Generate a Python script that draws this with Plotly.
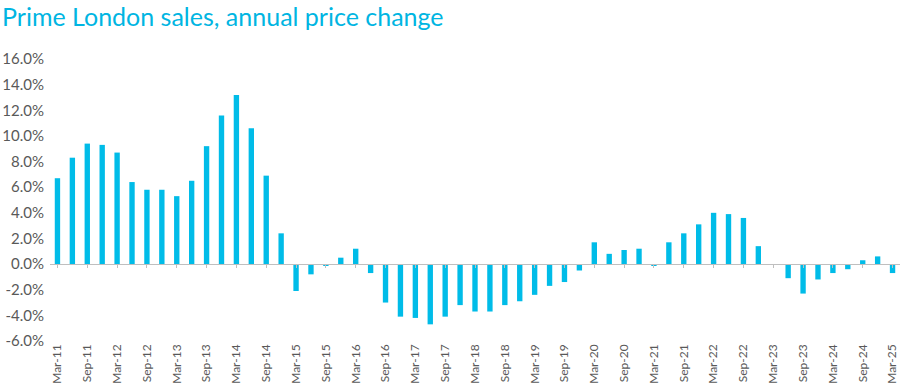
import plotly.graph_objects as go

quarters = []
for yr in range(11, 26):
    for m in ["Mar", "Jun", "Sep", "Dec"]:
        quarters.append(f"{m}-{yr}")
quarters = quarters[:57]

values = [
    6.7, 8.3, 9.4, 9.3,
    8.7, 6.4, 5.8, 5.8,
    5.3, 6.5, 9.2, 11.6,
    13.2, 10.6, 6.9, 2.4,
    -2.1, -0.8, -0.1, 0.5,
    1.2, -0.7, -3.0, -4.1,
    -4.2, -4.7, -4.1, -3.2,
    -3.7, -3.7, -3.2, -2.9,
    -2.4, -1.7, -1.4, -0.5,
    1.7, 0.8, 1.1, 1.2,
    -0.1, 1.7, 2.4, 3.1,
    4.0, 3.9, 3.6, 1.4,
    -0.05, -1.1, -2.3, -1.2,
    -0.7, -0.4, 0.3, 0.6,
    -0.7,
]

tick_labels = quarters[::2]
y_ticks = [-6, -4, -2, 0, 2, 4, 6, 8, 10, 12, 14, 16]
y_tick_text = [f"{v:.1f}%" for v in y_ticks]

title = "Prime London sales, annual price change"

BAR = "#00BCE8"
TXT = "#595959"
FONT = "Lato"

fig = go.Figure()
fig.add_trace(go.Bar(x=quarters, y=values, marker=dict(color=BAR, line=dict(width=0)),
                     hoverinfo="x+y"))
fig.add_trace(go.Scatter(x=quarters, y=[0] * len(quarters), xaxis="x2", mode="markers",
                         marker=dict(opacity=0), showlegend=False, hoverinfo="skip"))

ymin, ymax = -6, 16
zero_pos = (0 - ymin) / (ymax - ymin)
xrange = [-0.5, len(quarters) - 0.5]

L, R, T, B = 50, 0, 59, 45
W, H = 900, 386

fig.update_layout(
    width=W, height=H,
    margin=dict(l=L, r=R, t=T, b=B, autoexpand=False),
    paper_bgcolor="white", plot_bgcolor="white",
    showlegend=False,
    bargap=0.64,
    font=dict(family=FONT, color=TXT),
    xaxis=dict(type="category", categoryorder="array", categoryarray=quarters,
               range=xrange, autorange=False,
               tickmode="array", tickvals=tick_labels, ticktext=tick_labels,
               tickangle=-90, tickfont=dict(size=12, color=TXT), automargin=False,
               showgrid=False, showline=False, ticks="", zeroline=False),
    xaxis2=dict(type="category", categoryorder="array", categoryarray=quarters,
                range=xrange, autorange=False,
                overlaying="x", anchor="free", position=zero_pos,
                tickmode="array", tickvals=tick_labels, showticklabels=False,
                ticks="outside", ticklen=3, tickcolor="#BFBFBF", automargin=False,
                showline=True, linecolor="#BFBFBF", linewidth=1, showgrid=False),
    yaxis=dict(range=[ymin, ymax], tickmode="array", tickvals=y_ticks, ticktext=y_tick_text,
               tickfont=dict(size=15, color=TXT), showgrid=False, zeroline=False,
               showline=False, ticks="", ticklabelstandoff=5, automargin=False),
    annotations=[dict(text=title, xref="paper", yref="paper",
                      x=-(L - 0) / (W - L - R), y=1 + (T - 16) / (H - T - B),
                      xanchor="left", yanchor="middle", showarrow=False,
                      font=dict(family=FONT, size=25, color="#00B5E2"))],
)

fig.write_html("out.html", config={"displayModeBar": False},
               post_script="document.body.style.margin='0';document.body.style.overflow='hidden';")
